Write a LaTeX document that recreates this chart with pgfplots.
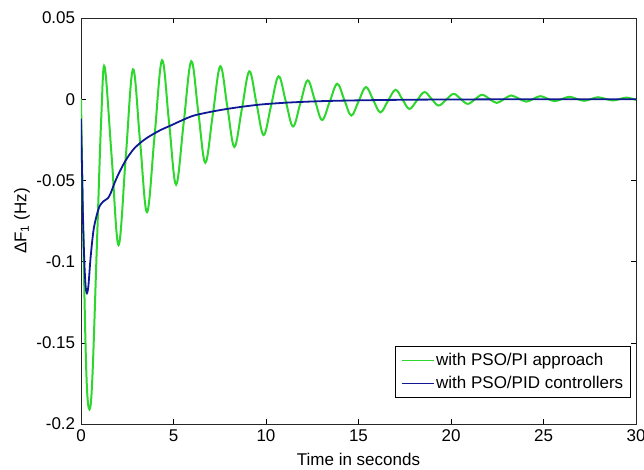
\documentclass[border=0pt]{standalone}
\usepackage{fontspec}
\setmainfont{Liberation Sans}
\usepackage{pgfplots}
\pgfplotsset{compat=1.18}
\definecolor{mgreen}{RGB}{45,215,45}
\definecolor{mblue}{RGB}{15,25,150}
\begin{document}
\fontsize{17bp}{20bp}\selectfont
\begin{tikzpicture}
\begin{axis}[
  name=ax,
  scale only axis, width=555bp, height=406bp,
  xmin=0, xmax=30, ymin=-0.2, ymax=0.05,
  xtick={0,5,10,15,20,25,30}, xticklabels={0,5,10,15,20,25,30},
  ytick={-0.2,-0.15,-0.1,-0.05,0,0.05},
  yticklabels={-0.2,-0.15,-0.1,-0.05,0,0.05},
  scaled ticks=false,
  tick align=inside, major tick length=5bp,
  every tick/.style={black, line width=0.6bp},
  axis line style={line width=0.8bp, black!85},
  font=\fontsize{17bp}{20bp}\selectfont,
  tick label style={font=\fontsize{17bp}{20bp}\selectfont},
  xlabel={Time in seconds},
  ylabel={ΔF\textsubscript{1} (Hz)},
  xlabel style={at={(axis description cs:0.5,-0.0862)}, anchor=center},
  ylabel style={at={(axis description cs:-0.1063,0.5)}, anchor=center},
  legend style={at={(axis description cs:0.991,0.064)}, anchor=south east,
    draw=black, line width=0.6bp, inner xsep=5.5bp, inner ysep=5bp,
    row sep=4bp, font=\fontsize{17bp}{20bp}\selectfont, cells={anchor=west}},
  legend image code/.code={\draw[#1, line width=1.3bp] (0bp,0bp) -- (32bp,0bp);},
]
\addplot[mgreen, line width=2bp, smooth, tension=0.6] coordinates {
(0,0) (0.15,-0.1) (0.3,-0.172) (0.46,-0.191) (0.62,-0.17) (0.87,-0.086)
(1.1,-0.01) (1.28,0.0199) (1.655,-0.035) (2.03,-0.0898) (2.42,-0.0356)
(2.81,0.0184) (3.19,-0.0256) (3.57,-0.0696) (3.975,-0.0228) (4.38,0.024)
(4.76,-0.0143) (5.14,-0.0526) (5.55,-0.0146) (5.96,0.0234) (6.34,-0.0079)
(6.72,-0.0391) (7.125,-0.0094) (7.53,0.0203) (7.91,-0.0046) (8.29,-0.0294)
(8.695,-0.0061) (9.1,0.0172) (9.485,-0.0025) (9.87,-0.0221) (10.275,-0.004)
(10.68,0.0141) (11.07,-0.0014) (11.46,-0.0168) (11.855,-0.0026) (12.25,0.0116)
(12.64,-0.0006) (13.03,-0.0128) (13.44,-0.0017) (13.85,0.0095) (14.23,-0.0003)
(14.61,-0.0101) (15.005,-0.0013) (15.4,0.0075) (15.79,-0.0003) (16.18,-0.0081)
(16.59,-0.0011) (17.0,0.0058) (17.375,-0.0001) (17.75,-0.006) (18.155,-0.0008)
(18.56,0.0044) (18.945,0.0002) (19.33,-0.0039) (19.735,-0.0003) (20.14,0.0033)
(20.52,0.0002) (20.9,-0.0029) (21.29,-0.0001) (21.68,0.0027) (22.08,0.0002)
(22.47,-0.0023) (22.855,0) (23.24,0.0023) (23.655,0.0004) (24.07,-0.0015)
(24.45,0.0002) (24.83,0.0019) (25.215,0.0003) (25.6,-0.0012) (26.0,0.0001)
(26.4,0.0015) (26.8,0.0002) (27.2,-0.001) (27.575,0.0001) (27.95,0.0012)
(28.35,0.0002) (28.75,-0.0008) (29.125,0.0001) (29.5,0.001) (30,-0.0004)
};
\addlegendentry{with PSO/PI approach}
\addplot[mblue, line width=1.8bp, smooth] coordinates {
(0,-0.012) (0.05,-0.04) (0.1,-0.07) (0.18,-0.1) (0.25,-0.115) (0.32,-0.1195)
(0.4,-0.115) (0.5,-0.1) (0.6,-0.088) (0.7,-0.079) (0.86,-0.071) (1.0,-0.066)
(1.2,-0.063) (1.45,-0.061) (1.6,-0.058) (1.8,-0.052) (2.03,-0.046) (2.4,-0.038)
(2.84,-0.0308) (3.3,-0.026) (3.75,-0.0225) (4.3,-0.019) (4.83,-0.0163)
(5.5,-0.0128) (6.09,-0.0101) (7.0,-0.0078) (7.89,-0.006) (8.8,-0.0045)
(9.69,-0.0033) (10.6,-0.0025) (11.5,-0.0019) (13,-0.0012) (15,-0.0007)
(18,-0.0003) (22,-0.0001) (26,0) (30,0)
};
\addlegendentry{with PSO/PID controllers}
\end{axis}
\pgfresetboundingbox
\path[use as bounding box] ([xshift=-81bp,yshift=-46bp]ax.south west) rectangle ([xshift=8bp,yshift=18bp]ax.north east);
\end{tikzpicture}
\end{document}
